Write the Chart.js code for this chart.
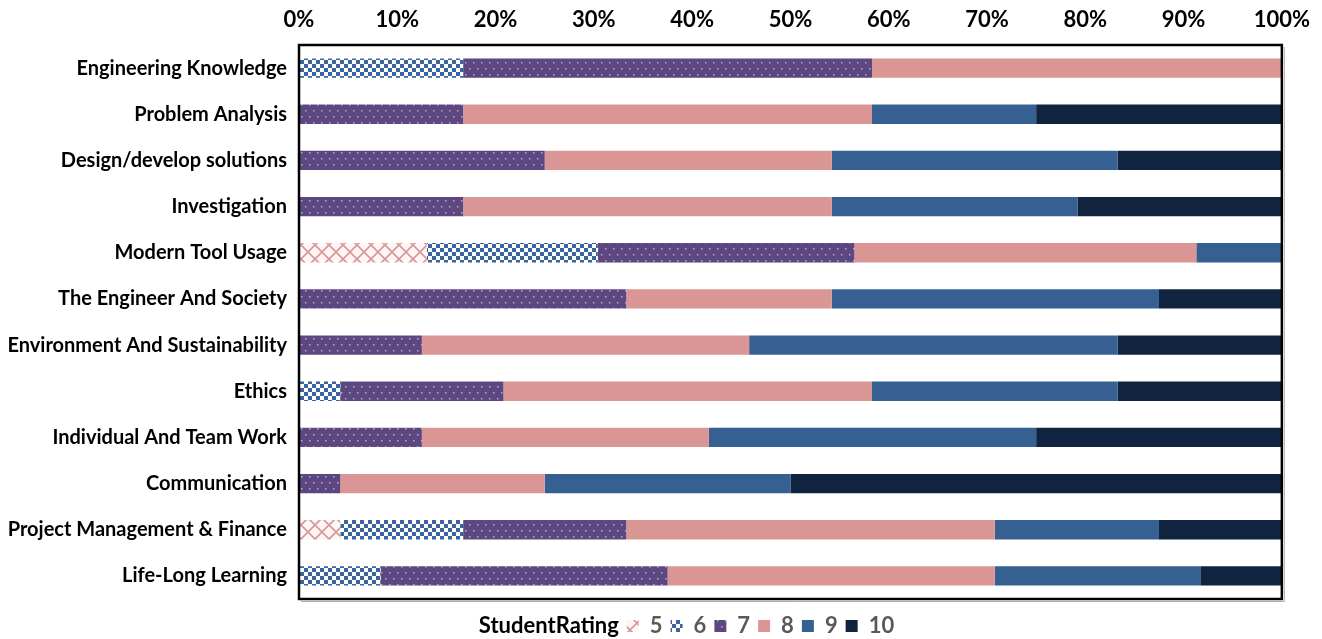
<!DOCTYPE html>
<html>
<head>
<meta charset="utf-8">
<script src="https://cdn.jsdelivr.net/npm/chart.js@4"></script>
<style>
  html, body { margin: 0; padding: 0; background: #fff; }
  #wrap { width: 1322px; height: 639px; }
</style>
</head>
<body>
<div id="wrap"><canvas id="c" width="1322" height="639"></canvas></div>
<script>
// Avaliacao dos alunos por resultado de aprendizagem (% por nota)
const categories = [
  'Engineering Knowledge', 'Problem Analysis', 'Design/develop solutions', 'Investigation',
  'Modern Tool Usage', 'The Engineer And Society', 'Environment And Sustainability', 'Ethics',
  'Individual And Team Work', 'Communication', 'Project Management & Finance', 'Life-Long Learning',
];
const ratings = ['5', '6', '7', '8', '9', '10'];
const rating5 = [0, 0, 0, 0, 13.0, 0, 0, 0, 0, 0, 4.2, 0];
const rating6 = [16.7, 0, 0, 0, 17.4, 0, 0, 4.2, 0, 0, 12.5, 8.3];
const rating7 = [41.6, 16.7, 25.0, 16.7, 26.1, 33.3, 12.5, 16.6, 12.5, 4.2, 16.6, 29.2];
const rating8 = [41.7, 41.6, 29.2, 37.5, 34.8, 20.9, 33.3, 37.5, 29.2, 20.8, 37.5, 33.3];
const rating9 = [0, 16.7, 29.1, 25.0, 8.7, 33.3, 37.5, 25.0, 33.3, 25.0, 16.7, 20.9];
const rating10 = [0, 25.0, 16.7, 20.8, 0, 12.5, 16.7, 16.7, 25.0, 50.0, 12.5, 8.3];
const xTicks = [0, 10, 20, 30, 40, 50, 60, 70, 80, 90, 100];

const COL = { pink: '#d99694', blue: '#376092', navy: '#11243f', purple: '#5d4780' };
const FONT = "Lato, 'Open Sans', sans-serif";

function tile(w, h, draw) {
  const cv = document.createElement('canvas');
  cv.width = w; cv.height = h;
  const g = cv.getContext('2d');
  draw(g);
  return document.getElementById('c').getContext('2d').createPattern(cv, 'repeat');
}

// nota 5: xadrez diagonal rosa
const pat5 = tile(14, 14, (g) => {
  g.fillStyle = '#fdf6f6'; g.fillRect(0, 0, 14, 14);
  g.strokeStyle = COL.pink; g.lineWidth = 1.6;
  g.beginPath(); g.moveTo(0, 0); g.lineTo(14, 14); g.moveTo(14, 0); g.lineTo(0, 14); g.stroke();
});
// nota 6: quadriculado azul
const pat6 = tile(8, 8, (g) => {
  g.fillStyle = '#ffffff'; g.fillRect(0, 0, 8, 8);
  g.fillStyle = '#3a64a0';
  g.fillRect(0, 0, 4, 4); g.fillRect(4, 4, 4, 4);
});
// nota 7: roxo pontilhado
const pat7 = tile(8, 12, (g) => {
  g.fillStyle = COL.purple; g.fillRect(0, 0, 8, 12);
  g.fillStyle = '#b8a8d0';
  g.fillRect(1, 2, 1.5, 1.5); g.fillRect(5, 8, 1.5, 1.5);
});

const series = [rating5, rating6, rating7, rating8, rating9, rating10];
const fills = [pat5, pat6, pat7, COL.pink, COL.blue, COL.navy];

const frame = {
  id: 'frame',
  afterLayout(chart) {
    // empurra a legenda um pouco para a direita/baixo, como no original
    const l = chart.legend;
    l.left += 30; l.right += 30; l.top += 8; l.bottom += 8;
  },
  afterDatasetsDraw(chart) {
    const { ctx, chartArea: a } = chart;
    ctx.save();
    ctx.strokeStyle = '#b0b0b0'; ctx.lineWidth = 1;
    ctx.beginPath();
    ctx.moveTo(a.left + 2, a.bottom + 2.5); ctx.lineTo(a.right + 2.5, a.bottom + 2.5); ctx.lineTo(a.right + 2.5, a.top + 2);
    ctx.stroke();
    ctx.strokeStyle = '#000'; ctx.lineWidth = 2.5;
    ctx.strokeRect(a.left, a.top, a.right - a.left, a.bottom - a.top);
    ctx.restore();
  },
};

new Chart(document.getElementById('c'), {
  type: 'bar',
  data: {
    labels: categories,
    datasets: series.map((d, i) => ({
      label: ratings[i],
      data: d,
      backgroundColor: fills[i],
      borderWidth: 0,
      barPercentage: 0.42,
      categoryPercentage: 1,
    })),
  },
  options: {
    indexAxis: 'y',
    responsive: false,
    animation: false,
    layout: { padding: { left: 8, right: 40, top: 8, bottom: 0 } },
    plugins: {
      tooltip: { enabled: false },
      legend: {
        position: 'bottom',
        labels: {
          boxWidth: 12, boxHeight: 12, padding: 8,
          font: { family: FONT, size: 22, weight: 'bold' },
          color: '#595959',
          generateLabels: (chart) => {
            const items = Chart.defaults.plugins.legend.labels.generateLabels(chart);
            items.forEach((it) => { it.lineWidth = 0; it.strokeStyle = 'rgba(0,0,0,0)'; });
            return [{ text: 'StudentRating', fillStyle: 'rgba(0,0,0,0)', strokeStyle: 'rgba(0,0,0,0)', lineWidth: 0, fontColor: '#000', hidden: false, datasetIndex: -1 }, ...items];
          },
        },
      },
    },
    scales: {
      x: {
        stacked: true, position: 'top', min: 0, max: 100,
        afterBuildTicks: (s) => { s.ticks = xTicks.map((v) => ({ value: v })); },
        afterFit: (s) => { s.height = 37; },
        ticks: { callback: (v) => v + '%', color: '#000', font: { family: FONT, size: 22, weight: 'bold' }, padding: 12, maxRotation: 0 },
        grid: { display: false, drawTicks: false }, border: { display: false },
      },
      y: {
        stacked: true,
        afterFit: (s) => { s.width = 291; },
        ticks: { color: '#000', font: { family: FONT, size: 20, weight: 'bold' }, padding: 12 },
        grid: { display: false, drawTicks: false }, border: { display: false },
      },
    },
  },
  plugins: [frame],
});
</script>
</body>
</html>
